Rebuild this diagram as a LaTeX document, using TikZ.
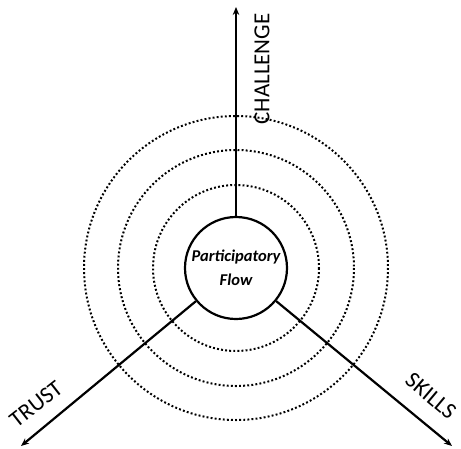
\documentclass[tikz,border=0pt]{standalone}
\usepackage{fontspec}
\setmainfont{Carlito}
\usetikzlibrary{arrows.meta}

\begin{document}
\begin{tikzpicture}[x=1pt, y=-1pt,
    axis/.style={line width=2.2pt, -{Stealth[length=8pt, width=6.5pt]}},
    ring/.style={line width=2pt, dash pattern=on 1.9pt off 2.2pt},
    axislabel/.style={font=\fontsize{23}{23}\selectfont, inner sep=0pt}]
  \useasboundingbox (0,0) rectangle (461,448);

  % Dotted rings
  \foreach \r in {83,118,152} \draw[ring] (236,268) circle (\r);

  % Centre
  \node[circle, draw, line width=2.2pt, minimum size=102pt, inner sep=0pt, fill=white,
        align=center, font=\fontsize{16.5}{24}\selectfont\bfseries\itshape]
    (flow) at (236,268) {Participatory\\Flow};

  % Axis ends
  \coordinate (chalEnd) at (236,7);
  \coordinate (trustEnd) at (21,446);
  \coordinate (skillsEnd) at (452,446);

  \draw[axis] (flow) -- (chalEnd);
  \draw[axis] (flow) -- (trustEnd);
  \draw[axis] (flow) -- (skillsEnd);

  % Labels
  \node[axislabel, rotate=90] (chal) at (262,69) {CHALLENGE};
  \node[axislabel, rotate=38] (trust) at (36,404) {TRUST};
  \node[axislabel, rotate=-40] (skills) at (431,396) {SKILLS};
\end{tikzpicture}
\end{document}
